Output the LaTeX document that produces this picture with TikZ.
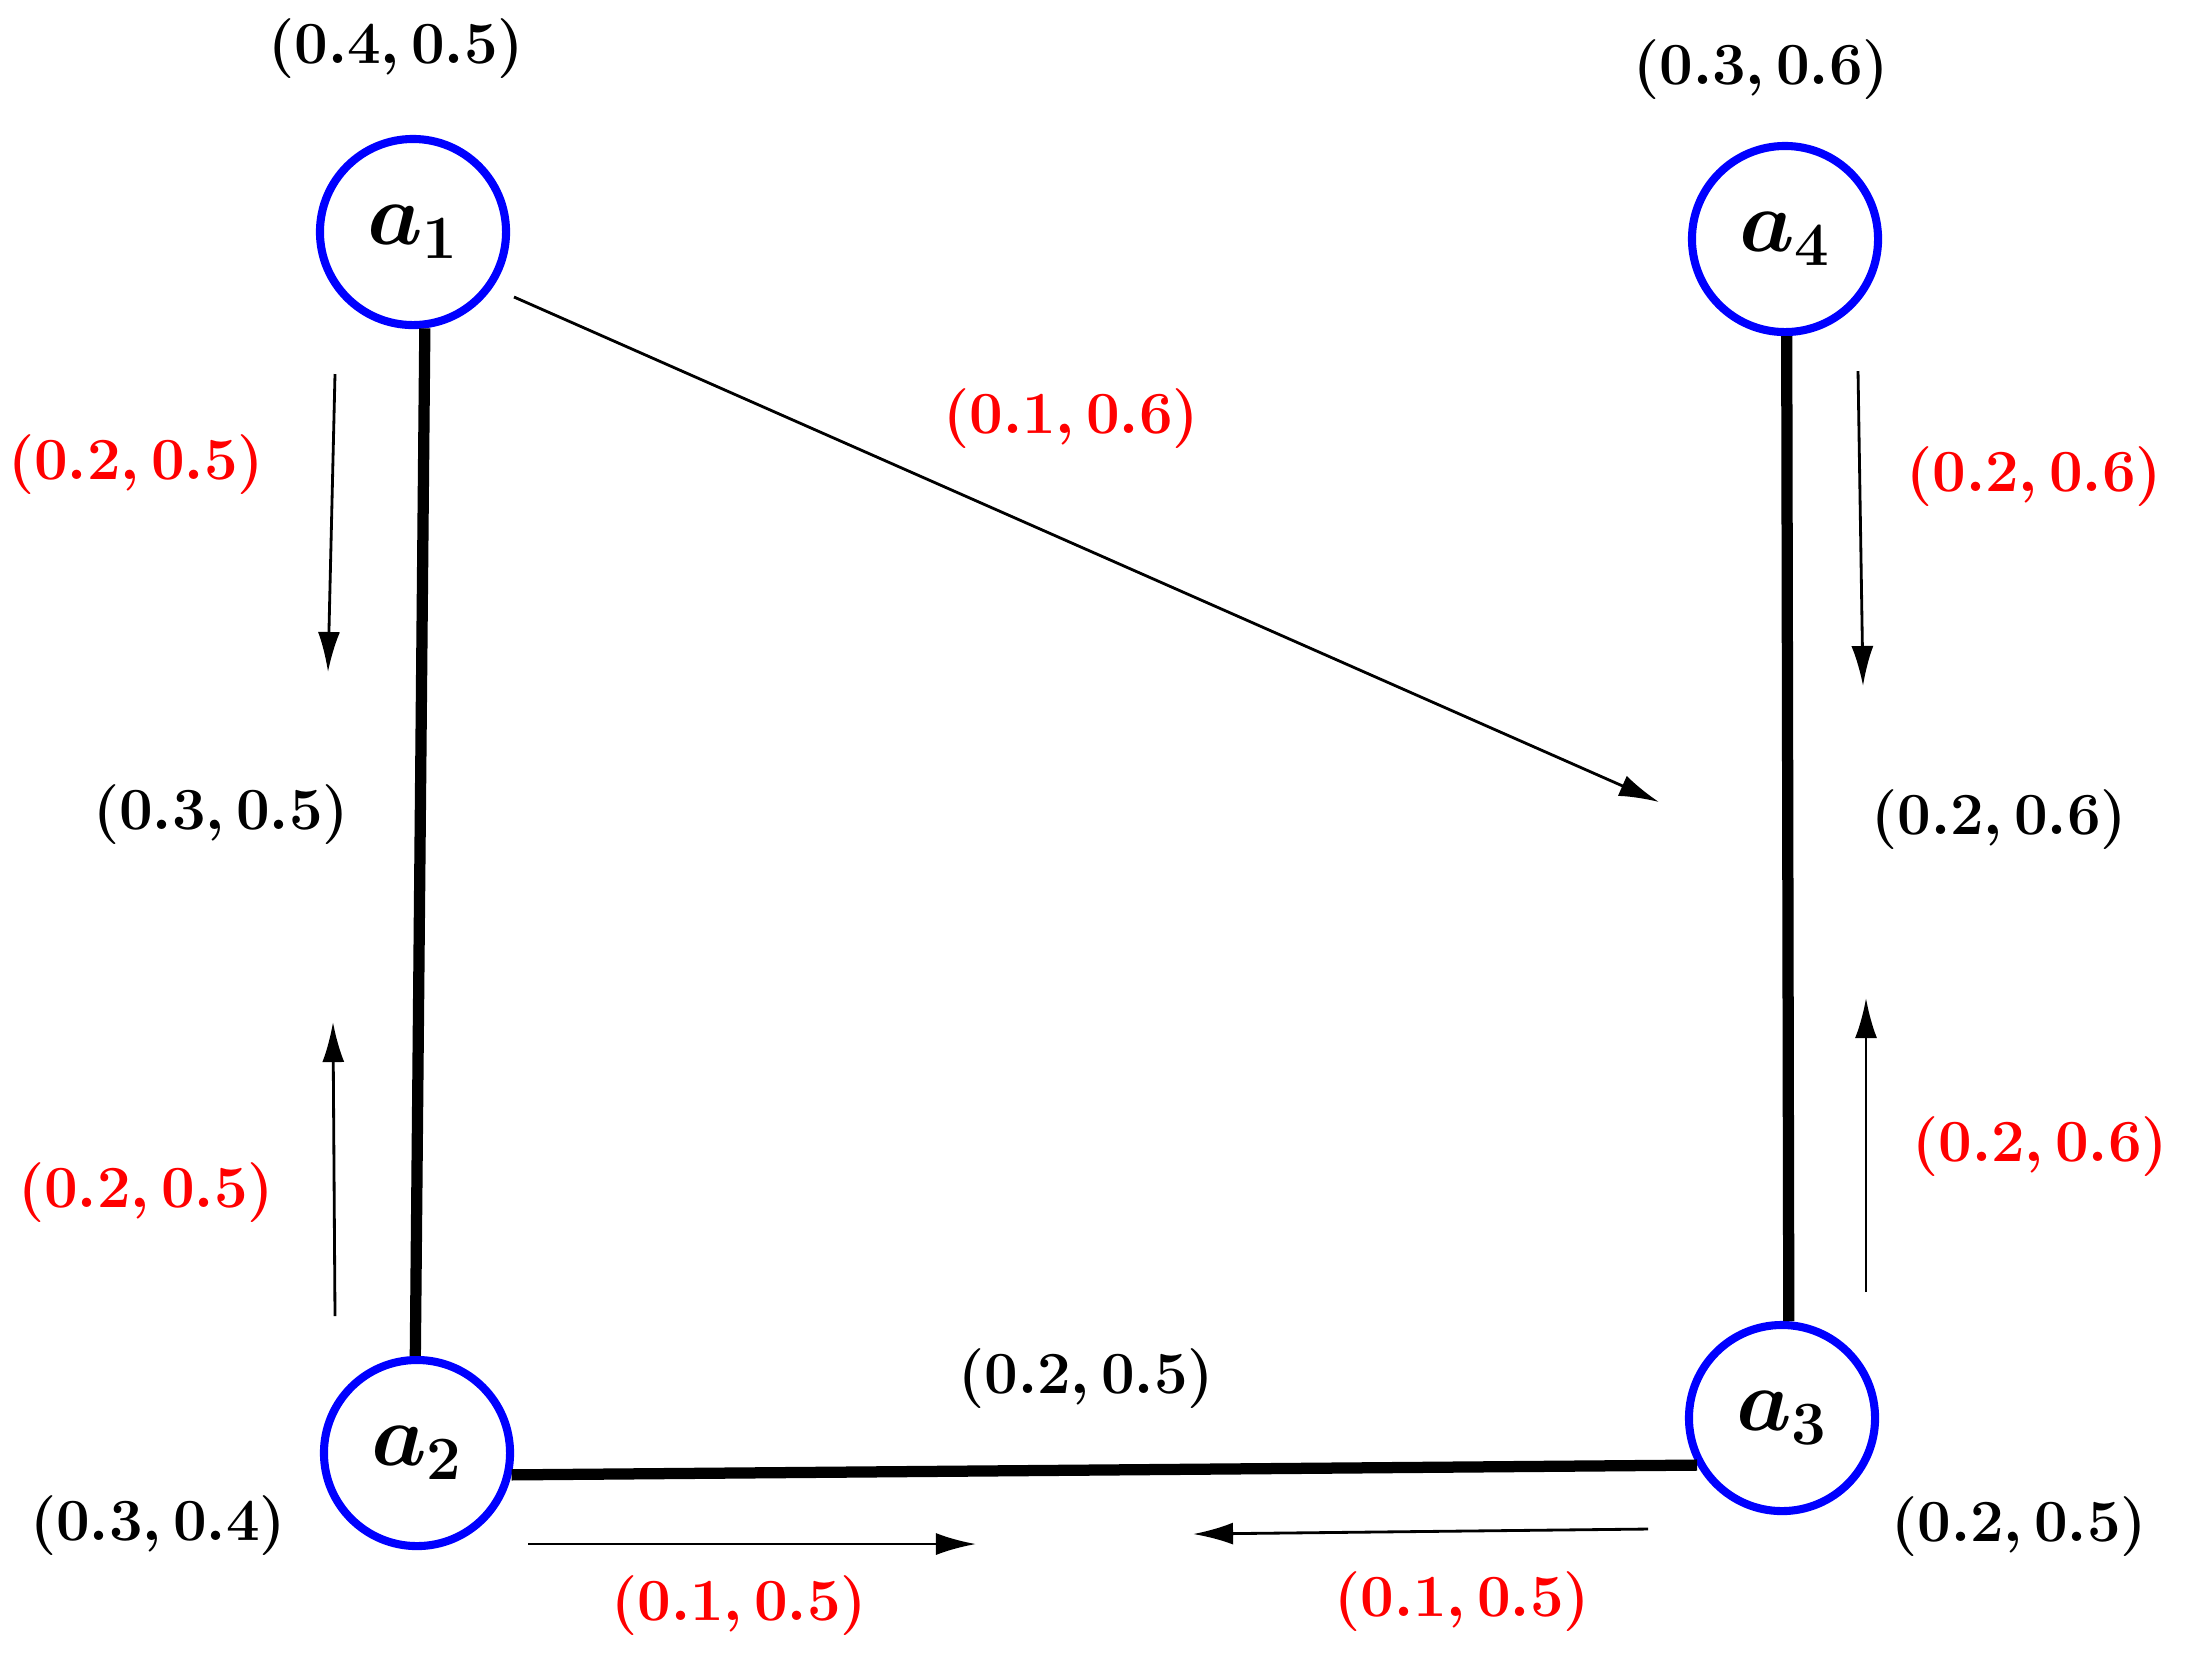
\documentclass[tikz,border=0pt]{standalone}
\usepackage{fix-cm}
\usepackage{amsmath}
\usetikzlibrary{arrows.meta}
\begin{document}
\begin{tikzpicture}[x=0.01cm,y=-0.01cm,
  agent/.style={circle,draw=blue,line width=2.3pt,minimum size=1.86cm,inner sep=0pt,font=\fontsize{25}{28}\selectfont\boldmath},
  val/.style={font=\fontsize{17}{20}\selectfont\boldmath,inner sep=1pt},
  rval/.style={val,text=red},
  tie/.style={line width=3.2pt},
  flow/.style={line width=0.8pt,-{Latex[length=4mm,width=2.2mm]}}]
\useasboundingbox (0,0) rectangle (2195,1653);
\node[agent] (a1) at (413,232) {$a_1$};
\node[agent] (a4) at (1785,239) {$a_4$};
\node[agent] (a2) at (417,1453) {$a_2$};
\node[agent] (a3) at (1782,1418) {$a_3$};
% black values
\node[val] (v1) at (396,49) {$(0.4,0.5)$};
\node[val] (v4) at (1761,70) {$(0.3,0.6)$};
\node[val] (v12) at (221,815) {$(0.3,0.5)$};
\node[val] (v34) at (1999,820) {$(0.2,0.6)$};
\node[val] (v23) at (1086,1379) {$(0.2,0.5)$};
\node[val] (v2) at (158,1526) {$(0.3,0.4)$};
\node[val] (v3) at (2019,1527) {$(0.2,0.5)$};
% red values
\node[rval] (r1) at (136,465) {$(0.2,0.5)$};
\node[rval] (r2) at (1071,419) {$(0.1,0.6)$};
\node[rval] (r3) at (2034,477) {$(0.2,0.6)$};
\node[rval] (r4) at (146,1193) {$(0.2,0.5)$};
\node[rval] (r5) at (2040,1147) {$(0.2,0.6)$};
\node[rval] (r6) at (739,1606) {$(0.1,0.5)$};
\node[rval] (r7) at (1462,1602) {$(0.1,0.5)$};
% thick ties
\draw[tie] (a1.-83) -- (a2.91);
\draw[tie] (a2.-13) -- (a3.209);
\draw[tie] (a3.86) -- (a4.-89);
% flow arrows
\coordinate (d0) at (514,297); \coordinate (d1) at (1659,802);
\coordinate (l0) at (335,374); \coordinate (l1) at (328,672);
\coordinate (l2) at (335,1316); \coordinate (l3) at (333,1022);
\coordinate (q0) at (1858,371); \coordinate (q1) at (1863,686);
\coordinate (q2) at (1866,1292); \coordinate (q3) at (1866,998);
\coordinate (b0) at (528,1544); \coordinate (b1) at (976,1544);
\coordinate (b2) at (1648,1529); \coordinate (b3) at (1193,1534);
\draw[flow] (d0) -- (d1);
\draw[flow] (l0) -- (l1);
\draw[flow] (l2) -- (l3);
\draw[flow] (q0) -- (q1);
\draw[flow] (q2) -- (q3);
\draw[flow] (b0) -- (b1);
\draw[flow] (b2) -- (b3);
\end{tikzpicture}
\end{document}
